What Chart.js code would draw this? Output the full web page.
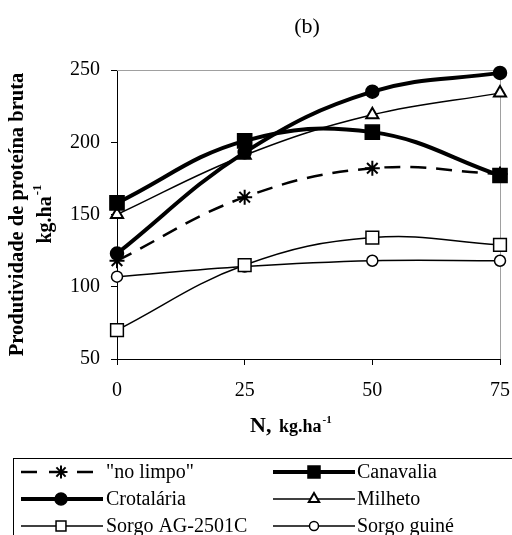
<!DOCTYPE html>
<html>
<head>
<meta charset="utf-8">
<script src="https://cdn.jsdelivr.net/npm/chart.js@4.4.1/dist/chart.umd.min.js"></script>
<style>
  html, body { margin: 0; padding: 0; background: #fff; }
  #wrap { width: 512px; height: 535px; }
</style>
</head>
<body>
<div id="wrap"><canvas id="c" width="512" height="535"></canvas></div>
<script>
// doses de N (kg/ha) e produtividade de proteína bruta por cobertura
const doses = [0, 25, 50, 75];
const noLimpo = [118, 162, 182, 178];
const canavalia = [158, 201, 207, 177];
const crotalaria = [123, 193, 235, 248];
const milheto = [150, 191, 219, 234];
const sorgoAG = [70, 115, 134, 129];
const sorgoGuine = [107, 114, 118, 118];
const yTicks = [50, 100, 150, 200, 250];
const xTicks = [0, 25, 50, 75];

const FONT = '"Liberation Serif", "Times New Roman", serif';

function pts(values) {
    return values.map((v, i) => ({ x: doses[i], y: v }));
}

function serie(label, values, style) {
    return Object.assign({
        label: label,
        data: pts(values),
        borderColor: '#000',
        pointBorderColor: '#000',
        backgroundColor: '#000',
        pointBackgroundColor: '#000',
        tension: 0.4,
        clip: false,
        pointBorderWidth: 1.5
    }, style);
}

const datasets = [
    serie('"no limpo"', noLimpo, { borderWidth: 2.5, borderDash: [16, 10], pointStyle: 'star', pointRadius: 7.5, pointBorderWidth: 2, legendRadius: 6.5, legendDash: [16, 12], legendRight: 94 }),
    serie('Canavalia', canavalia, { borderWidth: 4, pointStyle: 'rect', pointRadius: 10, legendRadius: 8.5 }),
    serie('Crotalária', crotalaria, { borderWidth: 4, pointStyle: 'circle', pointRadius: 6.5, legendRadius: 6 }),
    serie('Milheto', milheto, { borderWidth: 1.5, pointStyle: 'triangle', pointRadius: 7, pointBorderWidth: 2, pointBackgroundColor: '#fff', backgroundColor: '#fff', legendRadius: 6 }),
    serie('Sorgo AG-2501C', sorgoAG, { borderWidth: 1.5, pointStyle: 'rect', pointRadius: 9, pointBackgroundColor: '#fff', backgroundColor: '#fff', legendRadius: 7 }),
    serie('Sorgo guiné', sorgoGuine, { borderWidth: 1.5, pointStyle: 'circle', pointRadius: 5.5, pointBackgroundColor: '#fff', backgroundColor: '#fff', legendRadius: 4.5 })
];

// Текст осей, заголовок и легенда рисуются вручную (верхние индексы)
const extras = {
    id: 'extras',
    beforeDatasetsDraw(chart) {
        const { ctx, chartArea: a } = chart;
        ctx.save();
        ctx.strokeStyle = '#a0a0a0';
        ctx.lineWidth = 1;
        ctx.beginPath();
        ctx.moveTo(a.left, a.top + 0.5);
        ctx.lineTo(a.right + 0.5, a.top + 0.5);
        ctx.lineTo(a.right + 0.5, a.bottom);
        ctx.stroke();
        ctx.restore();
    },
    afterDraw(chart) {
        const { ctx, chartArea: a } = chart;
        ctx.save();
        ctx.fillStyle = '#000';
        ctx.textBaseline = 'middle';

        // заголовок
        ctx.font = '22px ' + FONT;
        ctx.textAlign = 'center';
        ctx.fillText('(b)', 307, 27);

        // заголовок оси Y
        const cy = (a.top + a.bottom) / 2;
        ctx.save();
        ctx.translate(18, cy);
        ctx.rotate(-Math.PI / 2);
        ctx.font = 'bold 20.5px ' + FONT;
        ctx.fillText('Produtividade de proteína bruta', 0, 0);
        ctx.restore();

        ctx.save();
        ctx.translate(46, cy);
        ctx.rotate(-Math.PI / 2);
        ctx.font = 'bold 20px ' + FONT;
        const w1 = ctx.measureText('kg.ha').width;
        ctx.font = 'bold 13px ' + FONT;
        const w2 = ctx.measureText('-1').width;
        let x0 = -(w1 + w2) / 2;
        ctx.textAlign = 'left';
        ctx.font = 'bold 20px ' + FONT;
        ctx.fillText('kg.ha', x0, 0);
        ctx.font = 'bold 13px ' + FONT;
        ctx.fillText('-1', x0 + w1 + 1, -8);
        ctx.restore();

        // заголовок оси X
        ctx.textAlign = 'left';
        ctx.textBaseline = 'alphabetic';
        const ty = 432;
        ctx.font = 'bold 22px ' + FONT;
        ctx.fillText('N,', 250, ty);
        ctx.font = 'bold 18px ' + FONT;
        ctx.fillText('kg.ha', 279, ty);
        const wk = ctx.measureText('kg.ha').width;
        ctx.font = 'bold 11px ' + FONT;
        ctx.fillText('-1', 279 + wk + 1, ty - 9);

        // легенда
        ctx.textBaseline = 'middle';
        ctx.strokeStyle = '#000';
        ctx.lineWidth = 1;
        ctx.strokeRect(13.5, 458.5, 520, 100);
        const rows = [472, 499, 526];
        const cols = [{ l: 21, r: 103, m: 61, t: 106 }, { l: 273, r: 355, m: 314, t: 357 }];
        const drawPoint = Chart.helpers.drawPoint;
        chart.data.datasets.forEach((ds, i) => {
            const c = cols[i % 2];
            const y = rows[Math.floor(i / 2)];
            ctx.save();
            ctx.strokeStyle = '#000';
            ctx.lineWidth = ds.borderWidth;
            ctx.setLineDash(ds.legendDash || []);
            ctx.beginPath();
            ctx.moveTo(c.l, y);
            ctx.lineTo(ds.legendRight || c.r, y);
            ctx.stroke();
            ctx.setLineDash([]);
            ctx.fillStyle = ds.pointBackgroundColor;
            ctx.strokeStyle = '#000';
            ctx.lineWidth = ds.pointBorderWidth;
            drawPoint(ctx, { pointStyle: ds.pointStyle, radius: ds.legendRadius, rotation: 0, borderWidth: ds.pointBorderWidth }, c.m, y);
            ctx.restore();
            ctx.font = '20px ' + FONT;
            ctx.textAlign = 'left';
            ctx.fillStyle = '#000';
            ctx.fillText(ds.label, c.t, y + 1);
        });
        ctx.restore();
    }
};

new Chart(document.getElementById('c'), {
    type: 'line',
    data: { datasets: datasets },
    options: {
        responsive: false,
        animation: false,
        devicePixelRatio: 1,
        layout: { padding: { top: 70, right: 0, left: 0, bottom: 136 } },
        plugins: { legend: { display: false }, tooltip: { enabled: false }, title: { display: false } },
        scales: {
            x: {
                type: 'linear',
                min: 0,
                max: 75,
                afterBuildTicks: s => { s.ticks = xTicks.map(v => ({ value: v })); },
                afterFit: s => { s.height = 40; s.paddingRight = 12; s.paddingLeft = 0; },
                grid: { display: true, drawOnChartArea: false, drawTicks: true, tickLength: 6, color: '#000' },
                border: { display: true, color: '#000', width: 1 },
                ticks: { color: '#000', font: { family: FONT, size: 20 }, padding: 14, maxRotation: 0 }
            },
            y: {
                type: 'linear',
                min: 50,
                max: 250,
                afterBuildTicks: s => { s.ticks = yTicks.map(v => ({ value: v })); },
                afterFit: s => { s.width = 117; s.paddingTop = 0; s.paddingBottom = 0; },
                grid: { display: true, drawOnChartArea: false, drawTicks: true, tickLength: 6, color: '#000' },
                border: { display: true, color: '#000', width: 1 },
                ticks: { color: '#000', font: { family: FONT, size: 20 }, padding: 11 }
            }
        }
    },
    plugins: [extras]
});
</script>
</body>
</html>
